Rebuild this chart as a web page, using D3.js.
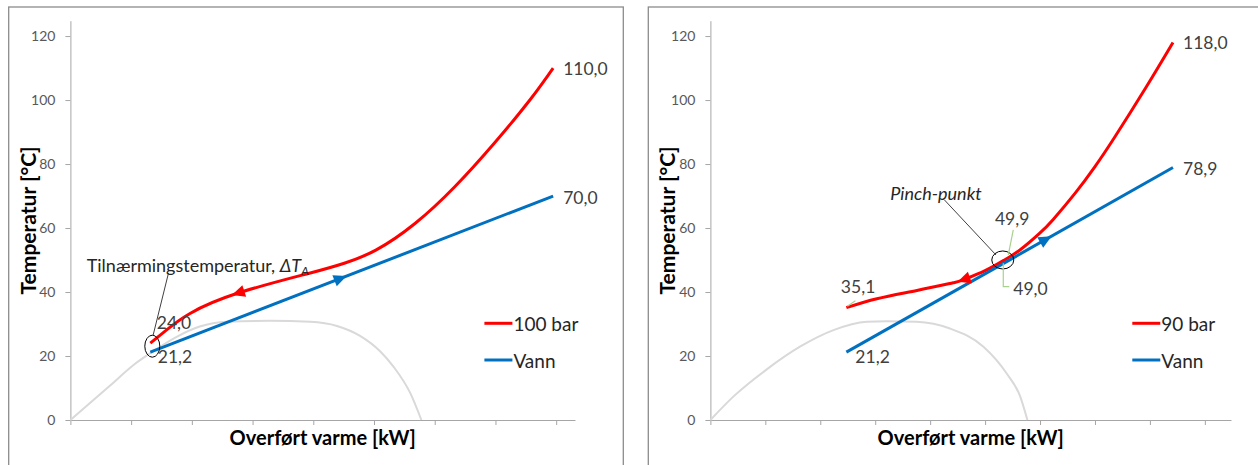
<!DOCTYPE html>
<html lang="no">
<head>
<meta charset="UTF-8">
<title>Pinch-diagram</title>
<style>
  body { margin: 0; background: #fff; }
  svg { display: block; font-family: Lato, "Open Sans", sans-serif; }
  .frame { fill: none; stroke: #8c8c8c; stroke-width: 1.3; }
  .axis path, .axis line { stroke: #a6a6a6; stroke-width: 1; }
  .axis text { fill: #595959; font-size: 14px; font-family: Lato, sans-serif; }
  .title { font-weight: bold; font-size: 20px; fill: #000; }
  .val { font-size: 17.5px; fill: #404040; }
  .legend text { font-size: 19px; fill: #262626; }
  .note { font-size: 18px; fill: #262626; }
</style>
</head>
<body>
<svg id="chart" width="1258" height="465"></svg>
<script src="https://cdnjs.cloudflare.com/ajax/libs/d3/7.9.0/d3.min.js"></script>
<script>
// y ticks (°C), x has no labels
const yTicks = [0, 20, 40, 60, 80, 100, 120];

// left chart: 100 bar (x in tick units, T in °C)
const leftNames = ["100 bar", "Vann"];
const leftRed = [[1.316, 24.0], [1.58, 28.1], [1.97, 33.3], [2.75, 39.6], [3.92, 45.8], [4.51, 49.0],
  [5.03, 53.1], [5.68, 61.5], [6.33, 72.9], [6.98, 86.5], [7.57, 100.1], [7.95, 110.0]];
const leftBlue = [[1.316, 21.2], [7.95, 70.0]];
const leftGray = [[0, 0], [0.65, 10.7], [1.04, 17.2], [1.31, 20.8], [1.75, 26.0], [2.13, 29.2], [2.58, 30.7],
  [3.29, 31.0], [3.95, 30.7], [4.39, 29.4], [4.77, 26.3], [5.10, 21.5], [5.32, 16.7], [5.60, 8.3], [5.78, 0]];

// right chart: 90 bar
const rightNames = ["90 bar", "Vann"];
const rightRed = [[2.475, 35.1], [3.03, 37.9], [3.76, 40.5], [4.42, 42.9], [4.6, 43.8], [5.0, 46.7], [5.34, 49.9],
  [5.64, 53.2], [5.99, 58.3], [6.24, 62.7], [6.64, 70.9], [7.0, 79.2], [7.355, 88.3], [7.93, 104.0], [8.42, 118.0]];
const rightBlue = [[2.475, 21.2], [8.42, 78.9]];
const rightGray = [[0, 0], [0.417, 7.3], [1.02, 15.75], [1.63, 22.9], [2.24, 28.1], [2.85, 30.7], [3.21, 30.9],
  [3.75, 30.7], [4.36, 28.6], [4.97, 22.9], [5.39, 14.6], [5.64, 7.3], [5.77, 0]];
const pinch = [5.34, 49.9, 49.0];

const fmt = d3.formatLocale({ decimal: ",", thousands: " ", grouping: [3], currency: ["", ""] }).format(".1f");
const svg = d3.select("#chart");

function panel(cfg) {
  const g = svg.append("g");
  g.append("rect").attr("class", "frame")
    .attr("x", cfg.box).attr("y", 7).attr("width", 614.6).attr("height", 480);

  const x = d3.scaleLinear().domain([0, cfg.xMax]).range([cfg.x0, cfg.x1]);
  const y = d3.scaleLinear().domain([0, 124.8]).range([420, 20.7]);

  g.append("g").attr("class", "axis").attr("transform", `translate(${cfg.x0},0)`)
    .call(d3.axisLeft(y).tickValues(yTicks).tickSize(5).tickSizeOuter(0).tickPadding(10));
  g.append("g").attr("class", "axis").attr("transform", "translate(0,420)")
    .call(d3.axisBottom(x).tickValues(d3.range(0, cfg.nTicks + 1)).tickSize(5).tickSizeOuter(0).tickFormat(""));

  g.append("text").attr("class", "title").style("font-size", "21px")
    .attr("transform", `translate(${cfg.box + 18.5},220.4) rotate(-90)`)
    .attr("text-anchor", "middle").attr("dominant-baseline", "central")
    .text("Temperatur [°C]");
  g.append("text").attr("class", "title")
    .attr("x", (cfg.x0 + cfg.x1) / 2).attr("y", 437)
    .attr("text-anchor", "middle").attr("dominant-baseline", "central")
    .text("Overført varme [kW]");

  const smooth = d3.line().x(d => x(d[0])).y(d => y(d[1])).curve(d3.curveNatural);
  const dome = d3.line().x(d => x(d[0])).y(d => y(d[1])).curve(d3.curveMonotoneX);

  g.append("path").attr("d", dome(cfg.gray))
    .attr("fill", "none").attr("stroke", "#d9d9d9").attr("stroke-width", 2);
  const redPath = g.append("path").attr("d", smooth(cfg.red))
    .attr("fill", "none").attr("stroke", "#ff0000").attr("stroke-width", 3);
  const bluePath = g.append("path").attr("d", smooth(cfg.blue))
    .attr("fill", "none").attr("stroke", "#0070c0").attr("stroke-width", 3);

  // direction arrows on the curves
  function arrow(path, u, dir, color) {
    const node = path.node();
    const total = node.getTotalLength();
    const px = x(u);
    let lo = 0, hi = total;
    for (let i = 0; i < 40; i++) {
      const mid = (lo + hi) / 2;
      if (node.getPointAtLength(mid).x < px) lo = mid; else hi = mid;
    }
    const p = node.getPointAtLength(lo);
    const q = node.getPointAtLength(Math.max(0, Math.min(total, lo - dir * 6)));
    const ang = Math.atan2(p.y - q.y, p.x - q.x) * 180 / Math.PI;
    g.append("path").attr("d", "M0,0L-13,-6L-13,6Z").attr("fill", color)
      .attr("transform", `translate(${p.x},${p.y}) rotate(${ang})`);
  }
  arrow(redPath, cfg.redArrow, -1, "#ff0000");
  arrow(bluePath, cfg.blueArrow, 1, "#0070c0");

  // value labels at the ends
  const rEnd = cfg.red[cfg.red.length - 1], bEnd = cfg.blue[cfg.blue.length - 1];
  const rStart = cfg.red[0], bStart = cfg.blue[0];
  const lab = (p, dx, dy) => g.append("text").attr("class", "val")
    .attr("x", x(p[0]) + dx).attr("y", y(p[1]) + dy)
    .attr("dominant-baseline", "central").text(fmt(p[1]));
  lab(rEnd, 10, 0);
  lab(bEnd, 10, 1);
  lab(bStart, cfg.bStartDx, 4);
  lab(rStart, cfg.rStartDx, -21);

  // legend
  const lg = g.append("g").attr("class", "legend");
  [["#ff0000", cfg.names[0], 323.3], ["#0070c0", cfg.names[1], 360]].forEach(d => {
    lg.append("line").attr("x1", cfg.legendX).attr("x2", cfg.legendX + 28)
      .attr("y1", d[2]).attr("y2", d[2]).attr("stroke", d[0]).attr("stroke-width", 3);
    lg.append("text").attr("x", cfg.legendX + 29).attr("y", d[2])
      .attr("dominant-baseline", "central").text(d[1]);
  });
  return { g, x, y };
}

// left
const L = panel({ box: 8.7, x0: 70.4, x1: 575, xMax: 8.31, nTicks: 8, red: leftRed, blue: leftBlue, gray: leftGray,
  names: leftNames, legendX: 484.4, redArrow: 2.66, blueArrow: 4.55, rStartDx: 6.5, bStartDx: 7.5 });
{
  const ax = L.x(leftRed[0][0]), ay = L.y((leftRed[0][1] + leftBlue[0][1]) / 2);
  L.g.append("ellipse").attr("cx", ax + 2).attr("cy", ay - 1.5).attr("rx", 7.5).attr("ry", 11)
    .attr("fill", "none").attr("stroke", "#000").attr("stroke-width", 1);
  L.g.append("line").attr("x1", ax + 2.7).attr("y1", ay - 12).attr("x2", ax + 18.2).attr("y2", ay - 74.7)
    .attr("stroke", "#404040").attr("stroke-width", 1);
  const t = L.g.append("text").attr("class", "note").attr("x", ax - 63.6).attr("y", ay - 82.7)
    .attr("dominant-baseline", "central");
  t.append("tspan").text("Tilnærmingstemperatur,  ");
  t.append("tspan").attr("font-style", "italic").text("ΔT");
  t.append("tspan").attr("font-style", "italic").attr("font-size", "12px").attr("dy", 5).text("A");
}

// right
const R = panel({ box: 648.3, x0: 710.4, x1: 1231, xMax: 9.476, nTicks: 9, red: rightRed, blue: rightBlue, gray: rightGray,
  names: rightNames, legendX: 1132.3, redArrow: 4.5, blueArrow: 6.21, rStartDx: -5.5, bStartDx: 9 });
{
  const ax = R.x(pinch[0]), ay = R.y((pinch[1] + pinch[2]) / 2);
  R.g.append("ellipse").attr("cx", ax - 1).attr("cy", ay - 1.8).attr("rx", 11).attr("ry", 9)
    .attr("fill", "none").attr("stroke", "#000").attr("stroke-width", 1);
  R.g.append("line").attr("x1", ax - 59.3).attr("y1", ay - 61.8).attr("x2", ax - 7.8).attr("y2", ay - 6.8)
    .attr("stroke", "#404040").attr("stroke-width", 1);
  R.g.append("text").attr("class", "note").attr("font-style", "italic")
    .attr("x", ax - 113.5).attr("y", ay - 69.1).attr("dominant-baseline", "central").text("Pinch-punkt");
  R.g.append("path").attr("d", `M${ax + 9.5},${ay - 31.8}L${ax + 4.5},${ay - 6.8}`)
    .attr("fill", "none").attr("stroke", "#a9d18e").attr("stroke-width", 1.2);
  R.g.append("path").attr("d", `M${ax - 0.5},${ay + 1.5}L${ax - 0.5},${ay + 24.9}L${ax + 5.5},${ay + 24.9}`)
    .attr("fill", "none").attr("stroke", "#a9d18e").attr("stroke-width", 1.2);
  R.g.append("text").attr("class", "val").attr("x", ax - 8.8).attr("y", ay - 43.5)
    .attr("dominant-baseline", "central").text(fmt(pinch[1]));
  R.g.append("text").attr("class", "val").attr("x", ax + 9.5).attr("y", ay + 26.5)
    .attr("dominant-baseline", "central").text(fmt(pinch[2]));
  const sx = R.x(rightRed[0][0]), sy = R.y(rightRed[0][1]);
  R.g.append("line").attr("x1", sx + 1).attr("y1", sy - 1.5).attr("x2", sx + 9).attr("y2", sy - 7)
    .attr("stroke", "#a9d18e").attr("stroke-width", 1.2);
}
</script>
</body>
</html>
